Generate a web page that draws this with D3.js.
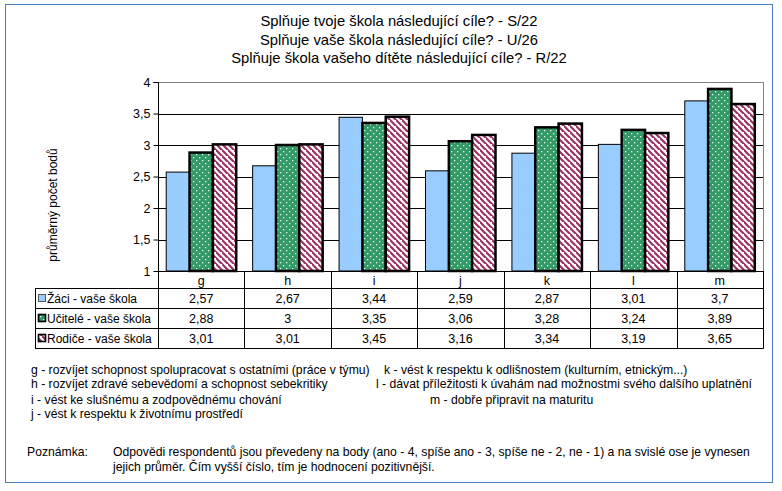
<!DOCTYPE html>
<html><head><meta charset="utf-8">
<script src="https://cdn.jsdelivr.net/npm/d3@7"></script>
<style>
body{margin:0;background:#fff;}
svg{display:block;font-family:"Liberation Sans",Arial,sans-serif;}
</style></head>
<body>
<svg id="c" width="782" height="491"></svg>
<script>
const titleLines = ["Splňuje tvoje škola následující cíle? - S/22","Splňuje vaše škola následující cíle? - U/26","Splňuje škola vašeho dítěte následující cíle? - R/22"];
const categories = ["g","h","i","j","k","l","m"];
const seriesNames = ["Žáci - vaše škola","Učitelé - vaše škola","Rodiče - vaše škola"];
const zaci = [2.57,2.67,3.44,2.59,2.87,3.01,3.7];
const ucitele = [2.88,3,3.35,3.06,3.28,3.24,3.89];
const rodice = [3.01,3.01,3.45,3.16,3.34,3.19,3.65];
const yTicks = [1,1.5,2,2.5,3,3.5,4];
const yTitle = "průměrný počet bodů";
const notesLeft = ["g - rozvíjet schopnost spolupracovat s ostatními (práce v týmu)","h - rozvíjet zdravé sebevědomí a schopnost sebekritiky","i - vést ke slušnému a zodpovědnému chování","j - vést k respektu k životnímu prostředí"];
const notesRight = ["k - vést k respektu k odlišnostem (kulturním, etnickým...)","l - dávat příležitosti k úvahám nad možnostmi svého dalšího uplatnění","m - dobře připravit na maturitu"];
const noteLabel = "Poznámka:";
const noteLines = ["Odpovědi respondentů jsou převedeny na body (ano - 4, spíše ano - 3, spíše ne - 2, ne - 1) a na svislé ose je vynesen","jejich průměr. Čím vyšší číslo, tím je hodnocení pozitivnější."];

const series = [zaci, ucitele, rodice];
const svg = d3.select("#c");
const defs = svg.append("defs");
const pd = defs.append("pattern").attr("id","dots").attr("patternUnits","userSpaceOnUse").attr("width",6).attr("height",6);
pd.append("rect").attr("width",6).attr("height",6).attr("fill","#339966");
pd.append("rect").attr("x",1).attr("y",1).attr("width",1.3).attr("height",1.3).attr("fill","#e8f8ee");
pd.append("rect").attr("x",4).attr("y",4).attr("width",1.3).attr("height",1.3).attr("fill","#e8f8ee");
const ps = defs.append("pattern").attr("id","stripes").attr("patternUnits","userSpaceOnUse").attr("width",6).attr("height",6);
ps.append("rect").attr("width",6).attr("height",6).attr("fill","#fff");
ps.append("path").attr("d","M-1,-1L7,7M-4,2L2,8M4,-4L10,2").attr("stroke","#993366").attr("stroke-width",2.2);

const fills = ["#99CCFF","url(#dots)","url(#stripes)"];
const strokeW = [1,2.5,2.5];

svg.append("rect").attr("x",5.5).attr("y",4.5).attr("width",767).attr("height",478).attr("fill","none").attr("stroke","#4A7EBB").attr("stroke-width",1);

svg.append("g").selectAll("text").data(titleLines).join("text")
  .attr("x",399).attr("y",(d,i)=>26+i*18.5).attr("text-anchor","middle")
  .attr("font-size",14.8).attr("fill","#000").text(d=>d);

const L=158, R=763, T=82, B=271;
const x = d3.scaleBand().domain(categories).range([L,R]).paddingInner(0.19).paddingOuter(0.095);
const step = (R-L)/categories.length;
const y = d3.scaleLinear().domain([1,4]).range([B,T]);
const xs = d3.scaleBand().domain([0,1,2]).range([0,x.bandwidth()]);

svg.append("g").selectAll("line").data(yTicks.filter(t=>t>1&&t<4)).join("line")
  .attr("x1",L).attr("x2",R).attr("y1",d=>Math.round(y(d))+0.5).attr("y2",d=>Math.round(y(d))+0.5).attr("stroke","#000");
svg.append("path").attr("d",`M${L},${T+0.5}H${R+0.5}V${B}`).attr("fill","none").attr("stroke","#808080");

const gb = svg.append("g");
series.forEach((vals,si)=>{
  gb.append("g").selectAll("rect").data(vals).join("rect")
    .attr("x",(d,i)=>x(categories[i])+xs(si))
    .attr("y",d=>y(d))
    .attr("width",xs.bandwidth())
    .attr("height",d=>B-y(d))
    .attr("fill",fills[si]).attr("stroke","#000").attr("stroke-width",strokeW[si]);
});

const ya = svg.append("g").attr("transform",`translate(${L+0.5},0)`)
  .call(d3.axisLeft(y).tickValues(yTicks).tickSize(5).tickFormat(d=>String(d).replace(".",",")));
ya.select(".domain").attr("stroke","#000").attr("d",`M-5,${T+0.5}H0V${B+0.5}`);
ya.selectAll(".tick line").attr("stroke","#000");
ya.selectAll("text").attr("font-family","Liberation Sans, Arial, sans-serif").attr("font-size",12.5).attr("fill","#000").attr("x",-8);

svg.append("text").attr("transform","translate(57,205) rotate(-90)").attr("text-anchor","middle")
  .attr("font-size",12).attr("fill","#000").text(yTitle);

const rowY = [271,288,308,328,348];
const TL = 35;
const tg = svg.append("g").attr("stroke","#000").attr("fill","none");
tg.append("line").attr("x1",L).attr("x2",R).attr("y1",B+0.5).attr("y2",B+0.5);
rowY.slice(1).forEach(yy=>tg.append("line").attr("x1",TL).attr("x2",R+0.5).attr("y1",yy+0.5).attr("y2",yy+0.5));
d3.range(categories.length+1).forEach(i=>{
  const xx = Math.round(L+i*step)+0.5;
  tg.append("line").attr("x1",xx).attr("x2",xx).attr("y1",B).attr("y2",rowY[4]+0.5);
});
tg.append("line").attr("x1",TL+0.5).attr("x2",TL+0.5).attr("y1",rowY[1]).attr("y2",rowY[4]+0.5);

svg.append("g").selectAll("text").data(categories).join("text")
  .attr("x",(d,i)=>L+(i+0.5)*step).attr("y",rowY[0]+13.5).attr("text-anchor","middle")
  .attr("font-size",12.5).attr("fill","#000").text(d=>d);
series.forEach((vals,si)=>{
  svg.append("g").selectAll("text").data(vals).join("text")
    .attr("x",(d,i)=>L+(i+0.5)*step).attr("y",rowY[si+1]+14.5).attr("text-anchor","middle")
    .attr("font-size",12.5).attr("fill","#000").text(d=>String(d).replace(".",","));
});
seriesNames.forEach((n,si)=>{
  const yy = rowY[si+1];
  svg.append("rect").attr("x",38.5).attr("y",yy+6.5).attr("width",7).attr("height",7)
    .attr("fill",fills[si]).attr("stroke",si===0?"#555":"#000").attr("stroke-width",si===0?1:1.6);
  svg.append("text").attr("x",47).attr("y",yy+14.5).attr("font-size",12).attr("fill","#000").text(n);
});

const nf = 12.2;
svg.append("g").selectAll("text").data(notesLeft).join("text")
  .attr("x",31).attr("y",(d,i)=>[374,388,404,418][i]).attr("font-size",nf).attr("fill","#000").text(d=>d);
svg.append("g").selectAll("text").data(notesRight).join("text")
  .attr("x",(d,i)=>[384,376,430][i]).attr("y",(d,i)=>[374,388,404][i]).attr("font-size",nf).attr("fill","#000").text(d=>d);
svg.append("text").attr("x",27).attr("y",456).attr("font-size",nf).attr("fill","#000").text(noteLabel);
svg.append("g").selectAll("text").data(noteLines).join("text")
  .attr("x",113).attr("y",(d,i)=>456+i*15).attr("font-size",nf).attr("fill","#000").text(d=>d);
</script>
</body></html>
